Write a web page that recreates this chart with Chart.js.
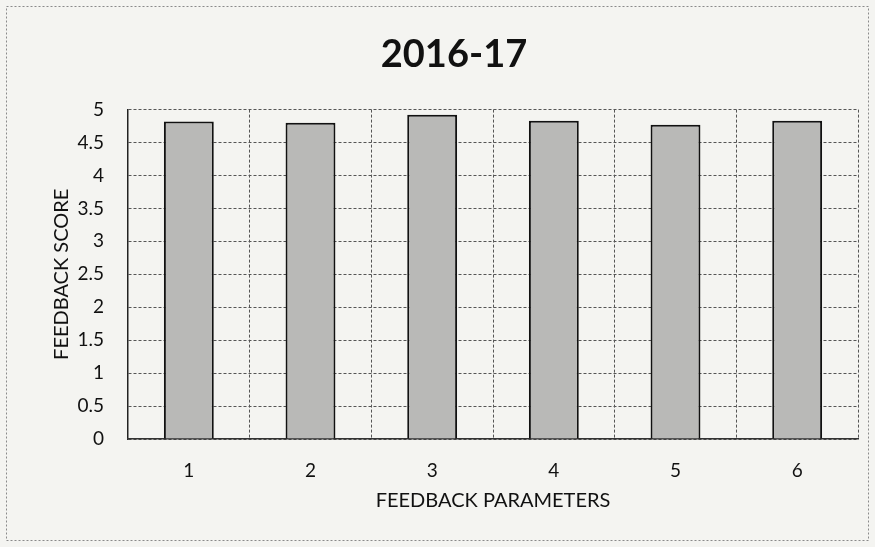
<!DOCTYPE html>
<html>
<head>
    <title>2016-17 Feedback</title>
    <script src="https://cdn.jsdelivr.net/npm/chart.js@4/dist/chart.umd.min.js"></script>
    <style>
        body { margin: 0; background: #f4f4f1; }
        #wrap { width: 875px; height: 547px; position: relative; }
    </style>
</head>
<body>
    <div id="wrap"><canvas id="feedbackChart" width="875" height="547"></canvas></div>

    <script>
        // values
        var parameters = ['1', '2', '3', '4', '5', '6'];
        var scores = [4.82, 4.80, 4.92, 4.83, 4.77, 4.83];
        var scoreTicks = ['0', '0.5', '1', '1.5', '2', '2.5', '3', '3.5', '4', '4.5', '5'];

        var fontName = 'Lato, "Open Sans", sans-serif';
        var gridColor = '#555';

        // faint dashed frame round the whole chart, as in the original
        var outerFrame = {
            id: 'outerFrame',
            afterDraw: function (c) {
                var g = c.ctx;
                g.save();
                g.strokeStyle = '#8a8a8a';
                g.lineWidth = 1;
                g.setLineDash([2, 2]);
                g.strokeRect(6.5, 6.5, c.width - 13, c.height - 13);
                g.restore();
            }
        };

        var ctx = document.getElementById('feedbackChart').getContext('2d');
        new Chart(ctx, {
            type: 'bar',
            data: {
                labels: parameters,
                datasets: [{
                    label: 'Feedback score',
                    data: scores,
                    backgroundColor: '#b9b9b7',
                    borderColor: '#111',
                    borderWidth: 2,
                    categoryPercentage: 0.82,
                    barPercentage: 0.5
                }]
            },
            options: {
                responsive: false,
                animation: false,
                layout: { padding: { left: 50, right: 17, top: 0, bottom: 34 } },
                plugins: {
                    legend: { display: false },
                    tooltip: { enabled: false },
                    title: {
                        display: true,
                        text: '2016-17',
                        color: '#111',
                        font: { family: fontName, size: 38, weight: 'bold' },
                        padding: { top: 32, bottom: 32 }
                    }
                },
                scales: {
                    y: {
                        min: 0,
                        max: 5,
                        ticks: {
                            stepSize: 0.5,
                            color: '#111',
                            padding: 24,
                            font: { family: fontName, size: 19 },
                            callback: function (value, index) { return scoreTicks[index]; }
                        },
                        grid: { color: gridColor, lineWidth: 1, drawTicks: false },
                        border: { color: '#222', width: 1.5, dash: [3, 2] },
                        title: {
                            display: true,
                            text: 'FEEDBACK SCORE',
                            color: '#111',
                            padding: 0,
                            font: { family: fontName, size: 20 }
                        },
                        afterFit: function (scale) { scale.width = 78; }
                    },
                    x: {
                        ticks: {
                            color: '#111',
                            padding: 20,
                            font: { family: fontName, size: 19 }
                        },
                        grid: { color: gridColor, lineWidth: 1, drawTicks: false },
                        border: { color: '#333', width: 1.5, dash: [3, 2] },
                        title: {
                            display: true,
                            text: 'FEEDBACK PARAMETERS',
                            color: '#111',
                            padding: 0,
                            font: { family: fontName, size: 20 }
                        },
                        afterFit: function (scale) { scale.height = 74; }
                    }
                }
            },
            plugins: [outerFrame]
        });
    </script>
</body>
</html>
